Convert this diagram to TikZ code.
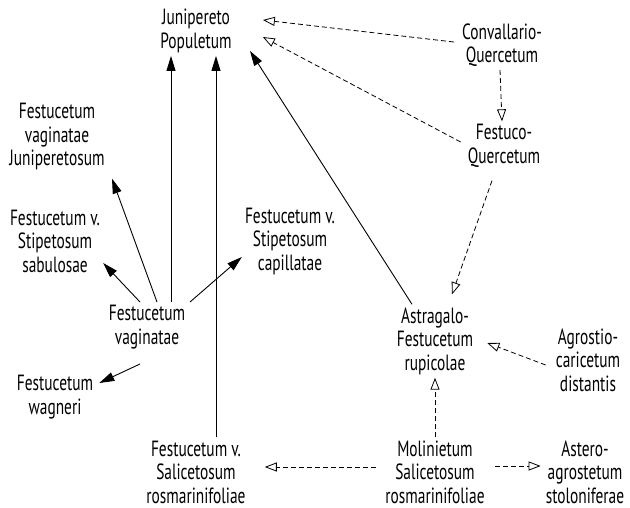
\documentclass[tikz,border=0pt]{standalone}
\usepackage{fontspec}
\setmainfont{PT Sans}[FakeStretch=0.7]
\usetikzlibrary{arrows.meta}
\tikzset{veg/.style={align=center, inner sep=3pt, font=\fontsize{22}{23.5}\selectfont},
flow/.style={-{Triangle[length=15pt, width=9pt]}, line width=0.9pt},
link/.style={-{Triangle[open, length=12pt, width=9pt]}, line width=0.8pt, dash pattern=on 5pt off 3pt}}
\begin{document}
\begin{tikzpicture}[x=1pt, y=-1pt]
  \useasboundingbox (0,0) rectangle (630,508);
  % upper part
  \node[veg] (jun) at (196,31) {Junipereto\\Populetum};
  \node[veg] (conv) at (502,45) {Convallario-\\Quercetum};
  \node[veg] (fque) at (504,146) {Festuco-\\Quercetum};
  \node[veg] (fjun) at (57,137) {Festucetum\\vaginatae\\Juniperetosum};
  \node[veg] (fsab) at (55,241) {Festucetum v.\\Stipetosum\\sabulosae};
  \node[veg] (fcap) at (290,241) {Festucetum v.\\Stipetosum\\capillatae};
  % middle part
  \node[veg] (fvag) at (147,327) {Festucetum\\vaginatae};
  \node[veg] (fwag) at (55,397) {Festucetum\\wagneri};
  \node[veg] (astr) at (435,341) {Astragalo-\\Festucetum\\rupicolae};
  \node[veg] (agr) at (588,360) {Agrostio-\\caricetum\\distantis};
  % lower part
  \node[veg] (fsal) at (196,472) {Festucetum v.\\Salicetosum\\rosmarinifoliae};
  \node[veg] (mol) at (435,472) {Molinietum\\Salicetosum\\rosmarinifoliae};
  \node[veg] (aste) at (585,472) {Astero-\\agrostetum\\stoloniferae};
  % solid arrows
  \draw[flow] ([xshift=24]fvag.north) -- ([xshift=-25]jun.south);
  \draw[flow] ([xshift=20]fsal.north) -- ([xshift=20]jun.south);
  \draw[flow] ([xshift=-23]astr.north) -- ([xshift=54,yshift=5]jun.south);
  \draw[flow] ([xshift=10]fvag.north) -- ([xshift=55,yshift=-5]fjun.south);
  \draw[flow] ([xshift=-7]fvag.north) -- ([yshift=-22]fsab.east);
  \draw[flow] ([xshift=43]fvag.north) -- ([yshift=-16]fcap.west);
  \draw[flow] ([xshift=-7,yshift=-12]fvag.south) -- ([xshift=3,yshift=14]fwag.east);
  % dashed arrows
  \draw[link] ([xshift=-5,yshift=3]conv.west) -- ([xshift=28,yshift=11]jun.east);
  \draw[link] ([xshift=-4,yshift=4]fque.west) -- ([xshift=28,yshift=-6]jun.east);
  \draw[link] ([xshift=-2]conv.south) -- ([xshift=-2]fque.north);
  \draw[link] ([xshift=-12,yshift=-10]fque.south) -- ([xshift=17,yshift=10]astr.north);
  \draw[link] ([xshift=-7,yshift=-5]agr.west) -- ([xshift=11,yshift=-2]astr.east);
  \draw[link] (mol.north) -- (astr.south);
  \draw[link] ([xshift=-6,yshift=5]mol.west) -- ([xshift=16,yshift=5]fsal.east);
  \draw[link] ([xshift=7,yshift=6]mol.east) -- ([xshift=-2,yshift=6]aste.west);
\end{tikzpicture}
\end{document}
